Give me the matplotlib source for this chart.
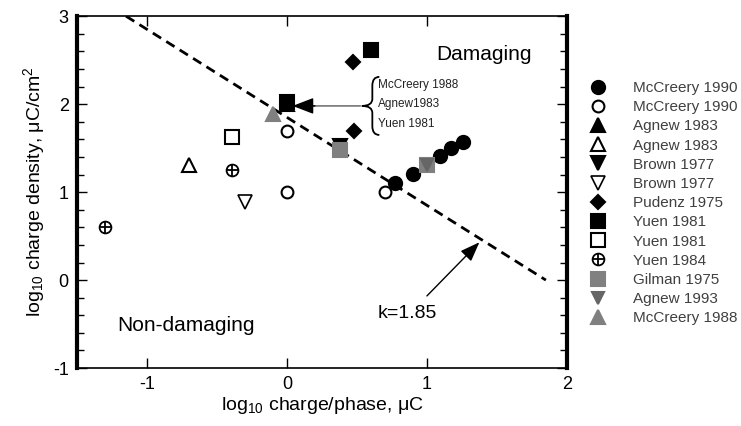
import numpy as np
import matplotlib
matplotlib.use("Agg")
import matplotlib.pyplot as plt
from matplotlib.path import Path
from matplotlib.patches import PathPatch
from matplotlib.legend_handler import HandlerTuple
from matplotlib.ticker import MultipleLocator

plt.rcParams['font.family'] = ['Liberation Sans', 'DejaVu Sans']
plt.rcParams['mathtext.default'] = 'regular'

# log10 charge/phase (x, uC) and log10 charge density (y, uC/cm2) per study
mc1990_fill_x = [0.77, 0.90, 1.09, 1.17, 1.26]
mc1990_fill_y = [1.10, 1.21, 1.41, 1.50, 1.57]
mc1990_open_x = [0.0, 0.0, 0.70]
mc1990_open_y = [1.70, 1.00, 1.00]
agnew1983_fill_x = [0.0]
agnew1983_fill_y = [2.0]
agnew1983_open_x = [-0.70]
agnew1983_open_y = [1.31]
brown_fill_x = [0.38]
brown_fill_y = [1.53]
brown_open_x = [-0.30]
brown_open_y = [0.89]
pudenz_x = [0.47, 0.48]
pudenz_y = [2.48, 1.70]
yuen1981_fill_x = [0.0, 0.60]
yuen1981_fill_y = [2.02, 2.62]
yuen1981_open_x = [-0.39]
yuen1981_open_y = [1.63]
yuen1984_x = [-1.30, -0.39]
yuen1984_y = [0.60, 1.25]
gilman_x = [0.38, 1.00]
gilman_y = [1.48, 1.31]
agnew1993_x = [1.00]
agnew1993_y = [1.31]
mc1988_x = [-0.10]
mc1988_y = [1.89]

# Shannon limit: log D = k - log Q
k = 1.85
limit_x = np.array([k - 3, k])

gray = '#808080'

fig = plt.figure(figsize=(7.41, 4.26), dpi=100)
ax = fig.add_axes([0.104, 0.136, 0.661, 0.826])

ax.plot(limit_x, k - limit_x, color='black', lw=2, ls=(0, (3.5, 2.2)), zorder=1)

def pts(x, y, marker, face, edge, ms, mew=1.5):
    h, = ax.plot(x, y, ls='none', marker=marker, markerfacecolor=face,
                 markeredgecolor=edge, ms=ms, mew=mew, zorder=3)
    return h

h_mc90f = pts(mc1990_fill_x, mc1990_fill_y, 'o', 'black', 'black', 9.5)
h_mc90o = pts(mc1990_open_x, mc1990_open_y, 'o', 'white', 'black', 8.5)
h_ag83f = pts(agnew1983_fill_x, agnew1983_fill_y, '^', 'black', 'black', 9.5)
h_ag83o = pts(agnew1983_open_x, agnew1983_open_y, '^', 'white', 'black', 9.5)
h_brf = pts(brown_fill_x, brown_fill_y, 'v', 'black', 'black', 9.5)
h_bro = pts(brown_open_x, brown_open_y, 'v', 'white', 'black', 10, 1.2)
h_pud = pts(pudenz_x, pudenz_y, 'D', 'black', 'black', 7)
h_gil = pts(gilman_x, gilman_y, 's', gray, gray, 10)
h_ag93 = pts(agnew1993_x, agnew1993_y, 'v', '#666666', '#666666', 8)
h_mc88 = pts(mc1988_x, mc1988_y, '^', gray, gray, 10)
h_y81f = pts(yuen1981_fill_x, yuen1981_fill_y, 's', 'black', 'black', 10)
h_y81o = pts(yuen1981_open_x, yuen1981_open_y, 's', 'white', 'black', 9.5)
h_y84a = pts(yuen1984_x, yuen1984_y, 'o', 'white', 'black', 8.5, 1.3)
h_y84b = pts(yuen1984_x, yuen1984_y, '+', 'none', 'black', 8.5, 1.3)

ax.set_xlim(-1.5, 2)
ax.set_ylim(-1, 3)
ax.set_xticks([-1, 0, 1, 2])
ax.set_xticklabels(['-1', '0', '1', '2'])
ax.set_yticks([-1, 0, 1, 2, 3])
ax.set_yticklabels(['-1', '0', '1', '2', '3'])
ax.yaxis.set_minor_locator(MultipleLocator(0.2))
ax.tick_params(axis='both', which='both', direction='in', top=True, right=True,
               labelsize=13, width=1, pad=6)
ax.tick_params(which='major', length=7)
ax.tick_params(which='minor', length=5)
for side in ['left', 'right']:
    ax.spines[side].set_linewidth(3)
for side in ['top', 'bottom']:
    ax.spines[side].set_linewidth(1.2)

ax.set_xlabel('log$_{10}$ charge/phase, \u03bcC', fontsize=14, labelpad=1)
ax.set_ylabel('log$_{10}$ charge density, \u03bcC/cm$^2$', fontsize=14, labelpad=4)

ax.text(1.07, 2.56, 'Damaging', fontsize=15, va='center')
ax.text(-1.21, -0.52, 'Non-damaging', fontsize=15, va='center')

# k=1.85 annotation
ax.annotate('', xy=(1.375, 0.43), xytext=(1.0, -0.18),
            arrowprops=dict(arrowstyle='-|>,head_length=1.2,head_width=0.45',
                            color='black', lw=1, shrinkA=0, shrinkB=0))
ax.text(0.86, -0.375, 'k=1.85', fontsize=14, ha='center', va='center')

# brace with the three overlapping studies
bx, tipx, w = 0.61, 0.535, 0.05
y0, y1 = 1.65, 2.31
ym = (y0 + y1) / 2
verts = [(bx + w, y1), (bx, y1), (bx, y1 - 0.1),
         (bx, ym + 0.08),
         (bx, ym), (tipx, ym),
         (bx, ym), (bx, ym - 0.08),
         (bx, y0 + 0.1),
         (bx, y0), (bx + w, y0)]
codes = [Path.MOVETO, Path.CURVE3, Path.CURVE3, Path.LINETO,
         Path.CURVE3, Path.CURVE3, Path.CURVE3, Path.CURVE3,
         Path.LINETO, Path.CURVE3, Path.CURVE3]
ax.add_patch(PathPatch(Path(verts, codes), fill=False, lw=1.3, color='black'))
for yy, lab in zip([2.22, 2.0, 1.77], ['McCreery 1988', 'Agnew1983', 'Yuen 1981']):
    ax.text(0.65, yy, lab, fontsize=8.5, va='center', color='#222222')

ax.annotate('', xy=(0.18, ym), xytext=(tipx - 0.01, ym),
            arrowprops=dict(arrowstyle='-', color='#777777', lw=1.2,
                            shrinkA=0, shrinkB=0))
ax.annotate('', xy=(0.04, ym), xytext=(0.2, ym),
            arrowprops=dict(arrowstyle='-|>,head_length=1.3,head_width=0.5',
                            color='black', lw=1, shrinkA=0, shrinkB=0))

handles = [h_mc90f, h_mc90o, h_ag83f, h_ag83o, h_brf, h_bro, h_pud,
           h_y81f, h_y81o, (h_y84a, h_y84b), h_gil, h_ag93, h_mc88]
labels = ['McCreery 1990', 'McCreery 1990', 'Agnew 1983', 'Agnew 1983',
          'Brown 1977', 'Brown 1977', 'Pudenz 1975', 'Yuen 1981', 'Yuen 1981',
          'Yuen 1984', 'Gilman 1975', 'Agnew 1993', 'McCreery 1988']
fig.legend(handles, labels, loc='upper left', bbox_to_anchor=(590.5 / 741, 1 - 81 / 426),
           frameon=False, fontsize=11, labelcolor='#404040', labelspacing=0.34,
           handlelength=1.0, handletextpad=1.8, borderpad=0, borderaxespad=0,
           markerscale=1.0, handler_map={tuple: HandlerTuple(ndivide=1, pad=0)})

fig.savefig('out.png', dpi=100)
